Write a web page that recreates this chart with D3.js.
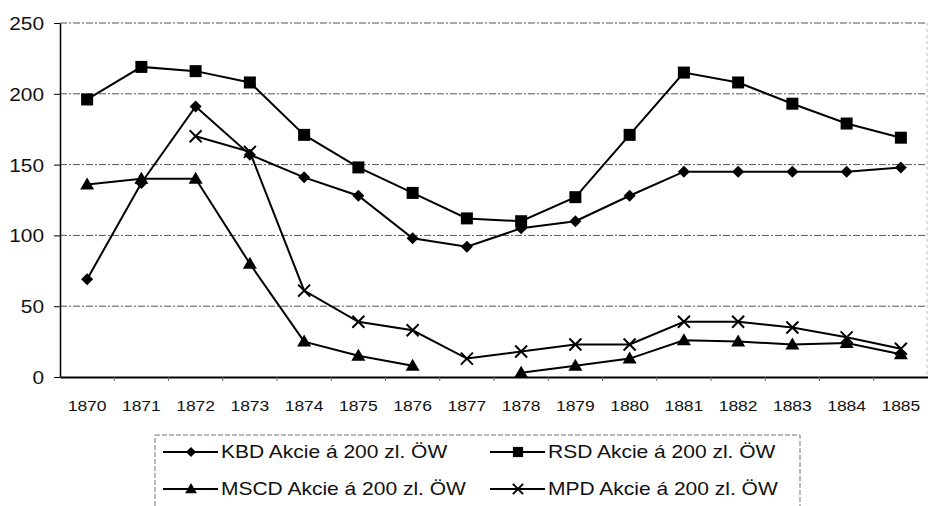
<!DOCTYPE html>
<html>
<head>
<meta charset="utf-8">
<script src="https://cdn.jsdelivr.net/npm/d3@7"></script>
<style>
  html, body { margin: 0; padding: 0; background: #fff; }
  svg { display: block; font-family: "Liberation Sans", Arial, sans-serif; }
</style>
</head>
<body>
<svg id="chart" width="928" height="506"></svg>
<script>
// ---- data ----
const years = ["1870","1871","1872","1873","1874","1875","1876","1877","1878","1879","1880","1881","1882","1883","1884","1885"];
const kbd  = [69, 137, 191, 157, 141, 128, 98, 92, 105, 110, 128, 145, 145, 145, 145, 148];
const rsd  = [196, 219, 216, 208, 171, 148, 130, 112, 110, 127, 171, 215, 208, 193, 179, 169];
const mscd = [136, 140, 140, 80, 25, 15, 8, null, 3, 8, 13, 26, 25, 23, 24, 16];
const mpd  = [null, null, 170, 159, 61, 39, 33, 13, 18, 23, 23, 39, 39, 35, 28, 20];
const yTicks = [0, 50, 100, 150, 200, 250];
const seriesNames = ["KBD Akcie á 200 zl. ÖW", "RSD Akcie á 200 zl. ÖW", "MSCD Akcie á 200 zl. ÖW", "MPD Akcie á 200 zl. ÖW"];
const seriesMarkers = ["diamond", "square", "triangle", "cross"];

const series = [kbd, rsd, mscd, mpd].map((vals, i) => ({
  name: seriesNames[i], marker: seriesMarkers[i],
  values: years.map((yr, j) => ({ year: yr, v: vals[j] }))
}));

// ---- layout ----
const svg = d3.select("#chart");
const pLeft = 60, pRight = 928, pTop = 23, pBottom = 377;
const x = d3.scaleBand().domain(years).range([pLeft, pRight]).padding(0);
const y = d3.scaleLinear().domain([0, 250]).range([pBottom, pTop]);
const cx = d => x(d) + x.bandwidth() / 2;

// gridlines
svg.append("g").selectAll("line").data(yTicks.filter(t => t > 0)).join("line")
  .attr("x1", pLeft).attr("x2", pRight - 1)
  .attr("y1", d => y(d)).attr("y2", d => y(d))
  .attr("stroke", "#555").attr("stroke-width", 1)
  .attr("stroke-dasharray", "7,2,2,2");

// right plot border (faint)
svg.append("line").attr("x1", pRight - 1).attr("x2", pRight - 1).attr("y1", pTop).attr("y2", pBottom)
  .attr("stroke", "#bbb").attr("stroke-dasharray", "3,3");

// y axis
const yAxis = svg.append("g").attr("transform", `translate(${pLeft},0)`)
  .call(d3.axisLeft(y).tickValues(yTicks).tickSize(6).tickSizeOuter(0).tickFormat(d3.format("d")));
yAxis.select(".domain").attr("stroke", "#000").attr("stroke-width", 1.5);
yAxis.selectAll(".tick line").attr("stroke", "#000");
yAxis.selectAll(".tick text").each(function(d) {
  d3.select(this).attr("x", null).attr("dy", null)
    .attr("text-anchor", "end").attr("dominant-baseline", "central")
    .attr("font-size", 18).attr("fill", "#111")
    .attr("transform", `translate(-16,0) scale(1.16,1)`);
});

// x axis
const xAxis = svg.append("g").attr("transform", `translate(0,${pBottom})`)
  .call(d3.axisBottom(x).tickSize(0).tickSizeOuter(0));
xAxis.select(".domain").attr("stroke", "#000").attr("stroke-width", 2);
xAxis.selectAll(".tick text").each(function() {
  d3.select(this).attr("y", null).attr("dy", null)
    .attr("font-size", 15.5).attr("fill", "#111").attr("text-anchor", "middle")
    .attr("transform", `translate(0,34) scale(1.13,1)`);
});
// small tick marks at band boundaries
svg.append("g").selectAll("line").data(years.slice(1)).join("line")
  .attr("x1", d => x(d)).attr("x2", d => x(d))
  .attr("y1", pBottom).attr("y2", pBottom + 4)
  .attr("stroke", "#666").attr("stroke-width", 1);

// markers
function drawMarker(g, type, px, py, k = 1) {
  const a = 6 * k, t = 7 * k;
  if (type === "diamond") {
    g.append("path").attr("d", `M${px},${py - a}L${px + a},${py}L${px},${py + a}L${px - a},${py}Z`).attr("fill", "#000");
  } else if (type === "square") {
    g.append("rect").attr("x", px - a).attr("y", py - a).attr("width", 2 * a).attr("height", 2 * a).attr("fill", "#000");
  } else if (type === "triangle") {
    g.append("path").attr("d", `M${px},${py - t}L${px + t},${py + 5 * k}L${px - t},${py + 5 * k}Z`).attr("fill", "#000");
  } else if (type === "cross") {
    g.append("path").attr("d", `M${px - a},${py - a}L${px + a},${py + a}M${px - a},${py + a}L${px + a},${py - a}`)
      .attr("stroke", "#000").attr("stroke-width", 2).attr("fill", "none");
  }
}

const line = d3.line().defined(d => d.v !== null).x(d => cx(d.year)).y(d => y(d.v));
series.forEach(s => {
  const g = svg.append("g");
  g.append("path").attr("d", line(s.values)).attr("fill", "none")
    .attr("stroke", "#000").attr("stroke-width", 2);
  s.values.filter(d => d.v !== null).forEach(d => drawMarker(g, s.marker, cx(d.year), y(d.v)));
});

// legend
const lg = svg.append("g");
lg.append("rect").attr("x", 155).attr("y", 435).attr("width", 645).attr("height", 80)
  .attr("fill", "none").attr("stroke", "#777").attr("stroke-width", 1).attr("stroke-dasharray", "5,2");
const legPos = [
  { lx: 163, ly: 452 }, { lx: 490, ly: 452 },
  { lx: 163, ly: 489 }, { lx: 490, ly: 489 }
];
series.forEach((s, i) => {
  const p = legPos[i];
  const g = lg.append("g");
  g.append("line").attr("x1", p.lx).attr("x2", p.lx + 55).attr("y1", p.ly).attr("y2", p.ly)
    .attr("stroke", "#000").attr("stroke-width", 2);
  drawMarker(g, s.marker, p.lx + 28, p.ly, 0.85);
  g.append("text").text(s.name)
    .attr("transform", `translate(${p.lx + 58},${p.ly}) scale(1.2,1)`)
    .attr("dominant-baseline", "central").attr("font-size", 17.5).attr("fill", "#111");
});
</script>
</body>
</html>
